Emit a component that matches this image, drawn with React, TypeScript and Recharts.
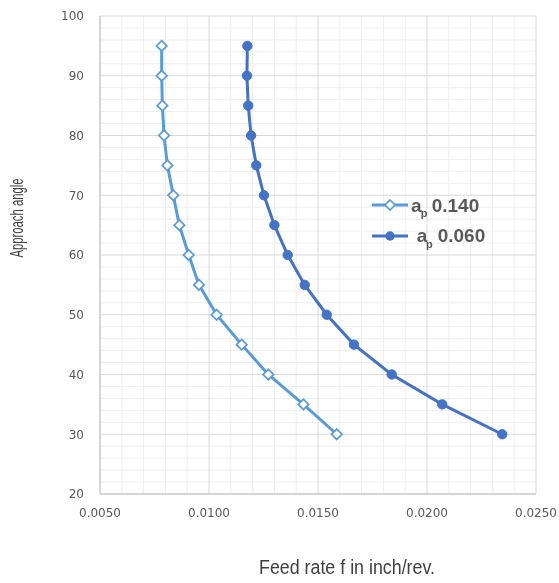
import React from 'react';
import { LineChart, Line, XAxis, YAxis, CartesianGrid, Legend } from 'recharts';

const angles = [95, 90, 85, 80, 75, 70, 65, 60, 55, 50, 45, 40, 35, 30];
const feed140 = [0.00783, 0.00783, 0.00786, 0.00794, 0.00809, 0.00836, 0.00864, 0.00907, 0.00954, 0.01035, 0.0115, 0.01272, 0.01433, 0.01586];
const feed060 = [0.01176, 0.01174, 0.0118, 0.01193, 0.01217, 0.01252, 0.0130, 0.01361, 0.01439, 0.0154, 0.01665, 0.01838, 0.0207, 0.02345];

const xTicks = [0.005, 0.01, 0.015, 0.02, 0.025];
const yTicks = [20, 30, 40, 50, 60, 70, 80, 90, 100];
const xMinor = [0.006, 0.007, 0.008, 0.009, 0.011, 0.012, 0.013, 0.014, 0.016, 0.017, 0.018, 0.019, 0.021, 0.022, 0.023, 0.024];
const yMinor = [22, 24, 26, 28, 32, 34, 36, 38, 42, 44, 46, 48, 52, 54, 56, 58, 62, 64, 66, 68, 72, 74, 76, 78, 82, 84, 86, 88, 92, 94, 96, 98];

const series140 = angles.map((a, i) => ({ x: feed140[i], y: a }));
const series060 = angles.map((a, i) => ({ x: feed060[i], y: a }));

const LIGHT = '#5B9BD5';
const DARK = '#4472C4';
const TXT = '#595959';

const Diamond = (props: any) => {
  const { cx, cy } = props;
  if (cx == null || cy == null) return null;
  const r = 5.2;
  return (
    <polygon
      points={`${cx},${cy - r} ${cx + r},${cy} ${cx},${cy + r} ${cx - r},${cy}`}
      fill="#fff"
      stroke={LIGHT}
      strokeWidth={1.75}
    />
  );
};

const Circle = (props: any) => {
  const { cx, cy } = props;
  if (cx == null || cy == null) return null;
  return <circle cx={cx} cy={cy} r={4.7} fill={DARK} stroke={DARK} strokeWidth={1} />;
};

const scaleOf = (axis: any, v: number, lo: number, hi: number, p0: number, p1: number) => {
  if (axis && typeof axis.scale === 'function') return axis.scale(v);
  return p0 + ((v - lo) / (hi - lo)) * (p1 - p0);
};

const LFONT = "'Liberation Sans', Arial, sans-serif";

const LegendContent = () => (
  <svg width={140} height={60} style={{ display: 'block', overflow: 'visible' }}>
    <line x1={7} x2={43} y1={15} y2={15} stroke={LIGHT} strokeWidth={3} />
    <polygon points="25,10 30,15 25,20 20,15" fill="#fff" stroke={LIGHT} strokeWidth={1.75} />
    <text x={46} y={21.7} fill={TXT} fontFamily={LFONT} fontWeight="bold" fontSize={19}>a</text>
    <text x={55.7} y={27} fill={TXT} fontFamily={LFONT} fontWeight="bold" fontSize={11}>p</text>
    <text x={66.7} y={21.7} fill={TXT} fontFamily={LFONT} fontWeight="bold" fontSize={19}>0.140</text>

    <line x1={7} x2={43} y1={46} y2={46} stroke={DARK} strokeWidth={3} />
    <circle cx={25} cy={46} r={4.7} fill={DARK} />
    <text x={51.7} y={52.3} fill={TXT} fontFamily={LFONT} fontWeight="bold" fontSize={19}>a</text>
    <text x={61} y={57.6} fill={TXT} fontFamily={LFONT} fontWeight="bold" fontSize={11}>p</text>
    <text x={72.7} y={52.3} fill={TXT} fontFamily={LFONT} fontWeight="bold" fontSize={19}>0.060</text>
  </svg>
);

const YTitle = (props: any) => {
  const vb = props.viewBox || { x: 0, y: 8, width: 92, height: 478 };
  const x = 9;
  const y = vb.y + vb.height / 2 - 37;
  return (
    <text
      x={x}
      y={y}
      transform={`rotate(-90, ${x}, ${y})`}
      textAnchor="middle"
      dominantBaseline="central"
      fill="#404040"
      fontFamily={LFONT}
      fontSize={18}
      textLength={79}
      lengthAdjust="spacingAndGlyphs"
    >
      Approach angle
    </text>
  );
};

const XTitle = () => {
  const x = 339;
  const y = 559;
  return (
    <text
      x={x}
      y={y}
      textAnchor="middle"
      dominantBaseline="central"
      fill="#404040"
      fontFamily={LFONT}
      fontSize={20}
      textLength={176}
      lengthAdjust="spacingAndGlyphs"
    >
      Feed rate f in inch/rev.
    </text>
  );
};

export default function App() {
  return (
    <div style={{ position: 'fixed', left: 8, top: 8, width: 551, height: 575 }}>
      <style>{'svg.recharts-surface { overflow: visible; }'}</style>
      <LineChart width={551} height={575} margin={{ top: 8, right: 23, left: 0, bottom: 59 }}>
        <CartesianGrid
          stroke="#EEEEEE"
          strokeWidth={1}
          verticalCoordinatesGenerator={({ xAxis, offset }: any) =>
            xMinor.map((v) => scaleOf(xAxis, v, 0.005, 0.025, offset.left, offset.left + offset.width))
          }
          horizontalCoordinatesGenerator={({ yAxis, offset }: any) =>
            yMinor.map((v) => scaleOf(yAxis, v, 20, 100, offset.top + offset.height, offset.top))
          }
        />
        <CartesianGrid stroke="#D9D9D9" strokeWidth={1} />
        <XAxis
          type="number"
          dataKey="x"
          domain={[0.005, 0.025]}
          ticks={xTicks}
          tickFormatter={(v: number) => v.toFixed(4)}
          allowDataOverflow
          height={30}
          tickSize={0}
          tickMargin={14}
          axisLine={{ stroke: '#BFBFBF', strokeWidth: 1 }}
          tickLine={false}
          tick={{ fill: TXT, fontSize: 12, fontFamily: "'DejaVu Sans', sans-serif" }}
          label={<XTitle />}
        />
        <YAxis
          type="number"
          dataKey="y"
          domain={[20, 100]}
          ticks={yTicks}
          width={92}
          tickSize={0}
          tickMargin={16}
          axisLine={{ stroke: '#BFBFBF', strokeWidth: 1 }}
          tickLine={false}
          tick={{ fill: TXT, fontSize: 12, fontFamily: "'DejaVu Sans', sans-serif" }}
          label={<YTitle />}
        />
        <Legend
          content={<LegendContent />}
          wrapperStyle={{ position: 'absolute', left: 357, top: 182, width: 140, height: 0, overflow: 'visible' }}
        />
        <Line
          data={series140}
          dataKey="y"
          name="ap 0.140"
          stroke={LIGHT}
          strokeWidth={3}
          dot={<Diamond />}
          activeDot={false}
          isAnimationActive={false}
        />
        <Line
          data={series060}
          dataKey="y"
          name="ap 0.060"
          stroke={DARK}
          strokeWidth={3}
          dot={<Circle />}
          activeDot={false}
          isAnimationActive={false}
        />
      </LineChart>
    </div>
  );
}
